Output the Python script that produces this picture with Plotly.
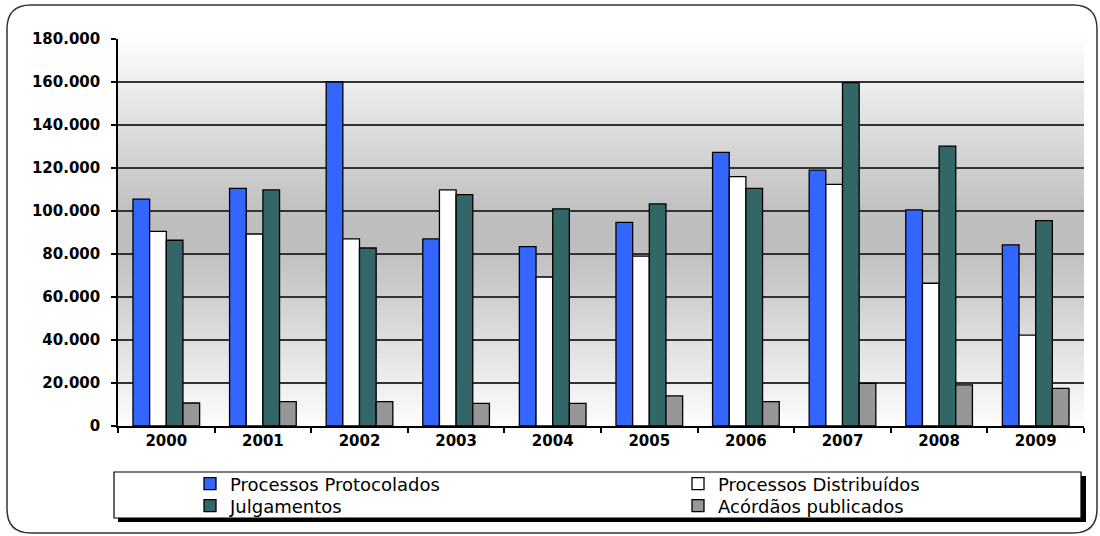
import plotly.graph_objects as go

years = ["2000", "2001", "2002", "2003", "2004", "2005", "2006", "2007", "2008", "2009"]
protocolados = [105500, 110500, 160000, 87000, 83400, 94700, 127300, 119000, 100500, 84200]
distribuidos = [90500, 89300, 87000, 109800, 69300, 79000, 116000, 112400, 66400, 42300]
julgamentos = [86400, 109800, 82800, 107600, 101000, 103300, 110500, 159700, 130200, 95500]
acordaos = [10700, 11300, 11300, 10500, 10500, 14000, 11300, 19800, 19100, 17500]
series_names = ["Processos Protocolados", "Processos Distribuídos", "Julgamentos", "Acórdãos publicados"]
y_ticks = [0, 20000, 40000, 60000, 80000, 100000, 120000, 140000, 160000, 180000]

W, H = 1100, 536
L, R, T, B = 118, 1084, 39, 426
PW, PH = R - L, B - T


def px(x):
    return (x - L) / PW


def py(y):
    return (B - y) / PH


colors = ["#3366FF", "#FFFFFF", "#336666", "#969696"]
values = [protocolados, distribuidos, julgamentos, acordaos]
legend_ids = ["legend", "legend2", "legend3", "legend4"]
# legend item anchor positions in container pixels (left x, middle y)
legend_pos = [(190, 484), (678, 484), (190, 506), (678, 506)]

fig = go.Figure()
for name, vals, col, lg in zip(series_names, values, colors, legend_ids):
    fig.add_trace(go.Bar(
        x=years, y=vals, name=name, legend=lg, showlegend=True,
        marker=dict(color=col, line=dict(color="#000000", width=1.3)),
    ))

shapes = []
# gradient background of plot area
n = 80
for i in range(n):
    f0, f1 = i / n, (i + 1) / n
    mid = (f0 + f1) / 2
    t = abs(mid - 0.5) / 0.5
    t = max(0.0, (t - 0.08) / 0.92)
    g = int(round(190 + (253 - 190) * t))
    shapes.append(dict(type="rect", xref="x domain", yref="y domain",
                       x0=0, x1=1, y0=f0, y1=f1 + 0.002, layer="below",
                       line=dict(width=0), fillcolor=f"rgb({g},{g},{g})"))

# outer rounded frame
x0f, y0f, x1f, y1f, r = 7, 5, 1097, 533, 24
path = (f"M {px(x0f + r)},{py(y0f)} L {px(x1f - r)},{py(y0f)} "
        f"Q {px(x1f)},{py(y0f)} {px(x1f)},{py(y0f + r)} "
        f"L {px(x1f)},{py(y1f - r)} Q {px(x1f)},{py(y1f)} {px(x1f - r)},{py(y1f)} "
        f"L {px(x0f + r)},{py(y1f)} Q {px(x0f)},{py(y1f)} {px(x0f)},{py(y1f - r)} "
        f"L {px(x0f)},{py(y0f + r)} Q {px(x0f)},{py(y0f)} {px(x0f + r)},{py(y0f)} Z")
shapes.append(dict(type="path", xref="paper", yref="paper", path=path,
                   line=dict(color="#333333", width=1.5), layer="below"))

# legend box with shadow
shapes.append(dict(type="rect", xref="paper", yref="paper",
                   x0=px(118), x1=px(1086), y0=py(522), y1=py(476),
                   fillcolor="#000000", line=dict(width=0), layer="above"))
shapes.append(dict(type="rect", xref="paper", yref="paper",
                   x0=px(114), x1=px(1081), y0=py(518), y1=py(472),
                   fillcolor="#FFFFFF", line=dict(color="#000000", width=1.2), layer="above"))

leg_font = dict(family="DejaVu Sans", size=18, color="#000000")
legend_layouts = {}
for lg, (lx, ly) in zip(legend_ids, legend_pos):
    legend_layouts[lg] = dict(
        visible=True, orientation="h", xref="container", yref="container",
        x=lx / W, y=1 - ly / H, xanchor="left", yanchor="middle",
        font=leg_font, bgcolor="rgba(0,0,0,0)", borderwidth=0, itemclick=False,
        itemdoubleclick=False)

fig.update_layout(
    width=W, height=H, showlegend=True,
    margin=dict(l=L, r=W - R, t=T, b=H - B, autoexpand=False),
    paper_bgcolor="#FFFFFF", plot_bgcolor="rgba(0,0,0,0)",
    separators=",.",
    barmode="group", bargap=0.31, bargroupgap=0,
    shapes=shapes,
    xaxis=dict(type="category", showline=True, linecolor="#000000", linewidth=1.5,
               ticks="outside", tickson="boundaries", ticklen=5, tickcolor="#000000",
               tickwidth=1.5, showgrid=False,
               tickfont=dict(family="DejaVu Sans", size=15, color="#000000", weight="bold")),
    yaxis=dict(range=[0, 180000], tickvals=y_ticks, tickformat=",d",
               showline=True, linecolor="#000000", linewidth=1.5,
               ticks="outside", ticklen=5, tickcolor="#000000", tickwidth=1.5,
               showgrid=True, gridcolor="#333333", gridwidth=1.5, zeroline=False,
               ticklabelstandoff=8,
               tickfont=dict(family="DejaVu Sans", size=15, color="#000000", weight="bold")),
    **legend_layouts,
)

fig.write_html("out.html")
